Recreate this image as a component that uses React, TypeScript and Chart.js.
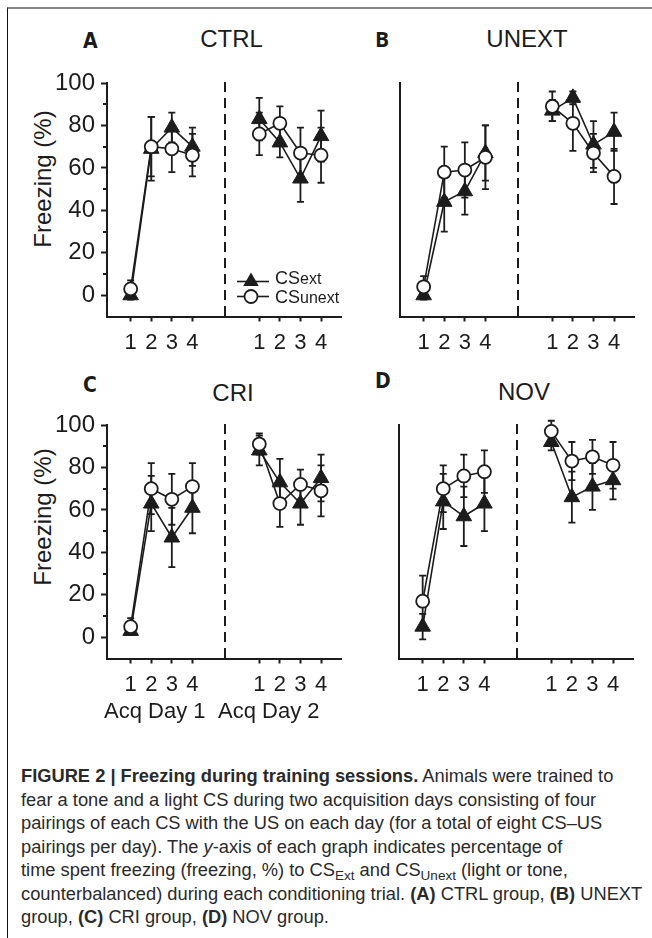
import React, { useEffect, useRef } from "react";
import { Chart, registerables } from "chart.js";

Chart.register(...registerables);

const FONT = "'Liberation Sans', Arial, Helvetica, sans-serif";
const INK = "#1c1c1c";

// trial positions on the x axis (day 1: trials 1-4, day 2: trials 1-4)
const trialX = [1, 2, 3, 4, 7.25, 8.25, 9.25, 10.25];
const trialLabels = ["1", "2", "3", "4", "1", "2", "3", "4"];
const dividerX = 5.58;
const yTickValues = [0, 20, 40, 60, 80, 100];
const yMinorTickValues = [10, 30, 50, 70, 90];
const seriesNames = ["CSext", "CSunext"];

// CTRL
const ctrlExt = [0, 69, 79, 70, 83, 72, 55, 75];
const ctrlExtSem = [2, 15, 7, 9, 10, 7, 11, 12];
const ctrlUnext = [3, 70, 69, 66, 76, 81, 67, 66];
const ctrlUnextSem = [4, 14, 11, 10, 10, 8, 12, 13];

// UNEXT
const unextExt = [0, 44, 49, 67, 87, 93, 71, 77];
const unextExtSem = [2, 14, 11, 13, 5, 3, 11, 9];
const unextUnext = [4, 58, 59, 65, 89, 81, 67, 56];
const unextUnextSem = [5, 12, 13, 15, 7, 13, 9, 13];

// CRI
const criExt = [3, 63, 47, 61, 88, 73, 63, 75];
const criExtSem = [2, 13, 14, 12, 7, 11, 10, 11];
const criUnext = [5, 70, 65, 71, 91, 63, 72, 69];
const criUnextSem = [4, 12, 12, 11, 5, 11, 7, 12];

// NOV
const novExt = [5, 64, 57, 63, 92, 66, 71, 74];
const novExtSem = [6, 13, 14, 13, 4, 12, 11, 9];
const novUnext = [17, 70, 76, 78, 97, 83, 85, 81];
const novUnextSem = [12, 11, 10, 10, 5, 9, 8, 11];

const Y_AXIS_W = 87;
const AREA_TOP = 22;
const CANVAS_W = 331;
const CANVAS_H = 306;
const X_AXIS_H = 40;
const PAD_BOTTOM = CANVAS_H - AREA_TOP - 233.5 - X_AXIS_H;

function toPoints(values: number[]) {
  const pts: { x: number; y: number | null }[] = [];
  values.forEach((v, i) => {
    if (i === 4) pts.push({ x: dividerX, y: null });
    pts.push({ x: trialX[i], y: v });
  });
  return pts;
}

function drawTriangle(ctx: CanvasRenderingContext2D, x: number, y: number, r: number) {
  let rad = 0;
  ctx.beginPath();
  ctx.moveTo(x + Math.sin(rad) * r, y - Math.cos(rad) * r);
  rad += (2 * Math.PI) / 3;
  ctx.lineTo(x + Math.sin(rad) * r, y - Math.cos(rad) * r);
  rad += (2 * Math.PI) / 3;
  ctx.lineTo(x + Math.sin(rad) * r, y - Math.cos(rad) * r);
  ctx.closePath();
}

const decorPlugin = {
  id: "panelDecor",
  beforeDatasetsDraw(chart: any) {
    const { ctx, chartArea, scales } = chart;
    const x = scales.x;
    const y = scales.y;
    ctx.save();
    // dashed divider between acquisition days
    const dx = Math.round(x.getPixelForValue(dividerX));
    ctx.strokeStyle = INK;
    ctx.lineWidth = 2;
    ctx.setLineDash([10, 6]);
    ctx.beginPath();
    ctx.moveTo(dx, chartArea.top - 1);
    ctx.lineTo(dx, chartArea.bottom);
    ctx.stroke();
    ctx.setLineDash([]);
    // error bars
    ctx.lineWidth = 1.8;
    chart.data.datasets.forEach((ds: any) => {
      const means: number[] = ds.means;
      const sems: number[] = ds.sems;
      means.forEach((m, i) => {
        const px = x.getPixelForValue(trialX[i]);
        const t = y.getPixelForValue(m + sems[i]);
        const b = y.getPixelForValue(m - sems[i]);
        ctx.beginPath();
        ctx.moveTo(px, t);
        ctx.lineTo(px, b);
        ctx.moveTo(px - 3.5, t);
        ctx.lineTo(px + 3.5, t);
        ctx.moveTo(px - 3.5, b);
        ctx.lineTo(px + 3.5, b);
        ctx.stroke();
      });
    });
    ctx.restore();
  },
  afterDraw(chart: any) {
    const { ctx, chartArea, scales } = chart;
    const opts = chart.options.plugins.panelDecor || {};
    ctx.save();
    ctx.strokeStyle = INK;
    ctx.fillStyle = INK;
    if (opts.minorTicks) {
      ctx.lineWidth = 2;
      yMinorTickValues.forEach((v) => {
        const py = Math.round(scales.y.getPixelForValue(v));
        ctx.beginPath();
        ctx.moveTo(chartArea.left - 4, py);
        ctx.lineTo(chartArea.left, py);
        ctx.stroke();
      });
    }
    if (opts.legend) {
      const lx0 = chartArea.left + 130;
      const lx1 = chartArea.left + 162;
      const mx = chartArea.left + 144;
      const tx = chartArea.left + 168;
      const rows = [chartArea.top + 198.5, chartArea.top + 213.5];
      const baselines = [chartArea.top + 200.5, chartArea.top + 220];
      rows.forEach((ry, i) => {
        ctx.lineWidth = 1.6;
        ctx.beginPath();
        ctx.moveTo(lx0, ry);
        ctx.lineTo(lx1, ry);
        ctx.stroke();
        if (i === 0) {
          drawTriangle(ctx, mx, ry, 9);
          ctx.fillStyle = INK;
          ctx.fill();
        } else {
          ctx.beginPath();
          ctx.arc(mx, ry, 6.5, 0, Math.PI * 2);
          ctx.fillStyle = "#fff";
          ctx.fill();
          ctx.lineWidth = 1.8;
          ctx.stroke();
        }
        ctx.fillStyle = INK;
        ctx.textBaseline = "alphabetic";
        ctx.textAlign = "left";
        const name = seriesNames[i];
        ctx.font = `18px ${FONT}`;
        ctx.fillText(name.slice(0, 2), tx, baselines[i]);
        const w = ctx.measureText(name.slice(0, 2)).width;
        ctx.font = `16px ${FONT}`;
        ctx.fillText(name.slice(2), tx + w, baselines[i]);
      });
    }
    ctx.restore();
  },
};

type PanelProps = {
  left: number;
  top: number;
  ext: number[];
  extSem: number[];
  unext: number[];
  unextSem: number[];
  yLabels: boolean;
  legend: boolean;
};

function Panel({ left, top, ext, extSem, unext, unextSem, yLabels, legend }: PanelProps) {
  const ref = useRef<HTMLCanvasElement>(null);
  useEffect(() => {
    const chart = new Chart(ref.current as HTMLCanvasElement, {
      type: "line",
      data: {
        datasets: [
          {
            label: seriesNames[1],
            data: toPoints(unext),
            means: unext,
            sems: unextSem,
            order: 0,
            borderColor: INK,
            borderWidth: 1.6,
            pointStyle: "circle",
            pointRadius: 6.5,
            pointBackgroundColor: "#ffffff",
            pointBorderColor: INK,
            pointBorderWidth: 1.8,
            spanGaps: false,
            tension: 0,
            clip: false,
          } as any,
          {
            label: seriesNames[0],
            data: toPoints(ext),
            means: ext,
            sems: extSem,
            order: 1,
            borderColor: INK,
            borderWidth: 1.6,
            pointStyle: "triangle",
            pointRadius: 9,
            pointBackgroundColor: INK,
            pointBorderColor: INK,
            pointBorderWidth: 1,
            spanGaps: false,
            tension: 0,
            clip: false,
          } as any,
        ],
      },
      options: {
        responsive: false,
        animation: false,
        devicePixelRatio: 1,
        events: [],
        layout: { padding: { left: 0, top: AREA_TOP, right: 10, bottom: PAD_BOTTOM } },
        plugins: {
          legend: { display: false },
          tooltip: { enabled: false },
          title: { display: false },
          panelDecor: { minorTicks: yLabels, legend },
        } as any,
        scales: {
          x: {
            type: "linear",
            min: -0.15,
            max: 11.22,
            afterBuildTicks: (s: any) => {
              s.ticks = trialX.map((v) => ({ value: v }));
            },
            afterFit: (s: any) => {
              s.height = X_AXIS_H;
            },
            ticks: {
              callback: (_v: any, i: number) => trialLabels[i],
              font: { family: FONT, size: 22 },
              color: INK,
              padding: 8,
              maxRotation: 0,
              autoSkip: false,
            },
            grid: {
              display: true,
              drawOnChartArea: false,
              drawTicks: true,
              tickLength: 5,
              tickWidth: 2,
              tickColor: INK,
            },
            border: { display: true, width: 2, color: INK },
          },
          y: {
            type: "linear",
            min: -10,
            max: 100,
            afterBuildTicks: (s: any) => {
              s.ticks = yTickValues.map((v) => ({ value: v }));
            },
            afterFit: (s: any) => {
              s.width = Y_AXIS_W;
            },
            ticks: {
              display: yLabels,
              font: { family: FONT, size: 24 },
              color: INK,
              padding: 6,
            },
            grid: {
              display: true,
              drawOnChartArea: false,
              drawTicks: yLabels,
              tickLength: 6,
              tickWidth: 2,
              tickColor: INK,
            },
            border: { display: true, width: 2, color: INK },
          },
        },
      } as any,
      plugins: [decorPlugin as any],
    });
    return () => chart.destroy();
  }, []);
  return (
    <canvas
      ref={ref}
      width={CANVAS_W}
      height={CANVAS_H}
      style={{ position: "absolute", left, top, width: CANVAS_W, height: CANVAS_H }}
    />
  );
}

const txt = (extra: React.CSSProperties): React.CSSProperties => ({
  position: "absolute",
  fontFamily: FONT,
  color: INK,
  lineHeight: 1,
  whiteSpace: "nowrap",
  ...extra,
});

function Title({ cx, top, children }: { cx: number; top: number; children: React.ReactNode }) {
  return <div style={txt({ left: cx - 100, width: 200, top, fontSize: 24, textAlign: "center" })}>{children}</div>;
}

function Letter({ left, top, children, open }: { left: number; top: number; children: React.ReactNode; open?: boolean }) {
  return (
    <div
      style={txt({
        left,
        top,
        fontSize: 21,
        fontWeight: "bold",
        fontFamily: open ? "'Open Sans', sans-serif" : "'DejaVu Sans Condensed', 'Liberation Sans Narrow', sans-serif",
      })}
    >
      {children}
    </div>
  );
}

function YTitle({ cx, cy }: { cx: number; cy: number }) {
  return (
    <div
      style={txt({
        left: cx - 100,
        top: cy - 15,
        width: 200,
        height: 30,
        lineHeight: "30px",
        fontSize: 24,
        textAlign: "center",
        transform: "rotate(-90deg)",
      })}
    >
      Freezing (%)
    </div>
  );
}

const sub: React.CSSProperties = { fontSize: "0.74em", verticalAlign: "-0.28em", lineHeight: 0 };

export default function App() {
  return (
    <div style={{ position: "absolute", left: 0, top: 0, width: 652, height: 938, background: "#fff", overflow: "hidden" }}>
      <div
        style={{
          position: "absolute",
          left: 7,
          top: 7,
          width: 652,
          height: 940,
          borderTop: "2px solid #858585",
          borderLeft: "1px solid #111",
        }}
      />
      <Letter left={83} top={30.5}>A</Letter>
      <Letter left={375} top={29.3} open>B</Letter>
      <Letter left={83} top={374.5}>C</Letter>
      <Letter left={375} top={370.5}>D</Letter>
      <Title cx={231.5} top={26.7}>CTRL</Title>
      <Title cx={527} top={26.7}>UNEXT</Title>
      <Title cx={233} top={380.7}>CRI</Title>
      <Title cx={524} top={379.7}>NOV</Title>
      <YTitle cx={43} cy={179} />
      <YTitle cx={43} cy={517} />

      <Panel left={20} top={83 - AREA_TOP} ext={ctrlExt} extSem={ctrlExtSem} unext={ctrlUnext} unextSem={ctrlUnextSem} yLabels legend />
      <Panel left={313} top={83 - AREA_TOP} ext={unextExt} extSem={unextExtSem} unext={unextUnext} unextSem={unextUnextSem} yLabels={false} legend={false} />
      <Panel left={20} top={425 - AREA_TOP} ext={criExt} extSem={criExtSem} unext={criUnext} unextSem={criUnextSem} yLabels legend={false} />
      <Panel left={312} top={425 - AREA_TOP} ext={novExt} extSem={novExtSem} unext={novUnext} unextSem={novUnextSem} yLabels={false} legend={false} />

      <div style={txt({ left: 104, top: 700, fontSize: 22 })}>Acq Day 1</div>
      <div style={txt({ left: 218, top: 700, fontSize: 22 })}>Acq Day 2</div>

      <div
        style={{
          position: "absolute",
          left: 21,
          top: 764,
          fontFamily: FONT,
          fontSize: 18.3,
          lineHeight: "23.5px",
          color: "#2a2a2a",
          whiteSpace: "nowrap",
        }}
      >
        <div>
          <b>FIGURE 2 | Freezing during training sessions.</b> Animals were trained to
        </div>
        <div>fear a tone and a light CS during two acquisition days consisting of four</div>
        <div>pairings of each CS with the US on each day (for a total of eight CS–US</div>
        <div>
          pairings per day). The <i>y</i>-axis of each graph indicates percentage of
        </div>
        <div>
          time spent freezing (freezing, %) to CS<span style={sub}>Ext</span> and CS<span style={sub}>Unext</span> (light or
          tone,
        </div>
        <div>
          counterbalanced) during each conditioning trial. <b>(A)</b> CTRL group, <b>(B)</b> UNEXT
        </div>
        <div>
          group, <b>(C)</b> CRI group, <b>(D)</b> NOV group.
        </div>
      </div>
    </div>
  );
}
